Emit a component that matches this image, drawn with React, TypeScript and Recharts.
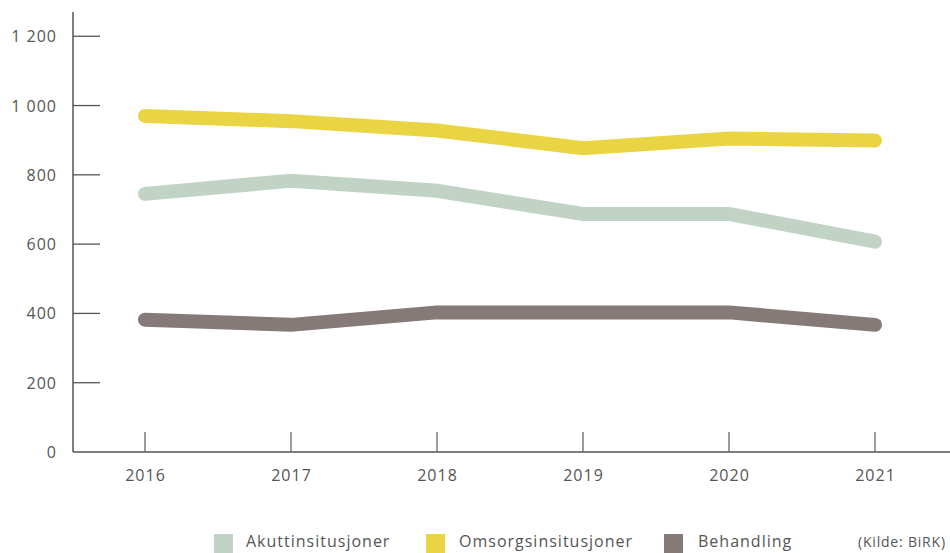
import { LineChart, Line, XAxis, YAxis } from "recharts";

const years = ["2016", "2017", "2018", "2019", "2020", "2021"];
const akutt = [745, 783, 754, 687, 687, 607];
const omsorg = [970, 955, 928, 877, 905, 899];
const behandling = [382, 367, 403, 403, 403, 367];
const yTicks = [0, 200, 400, 600, 800, 1000, 1200];

const series = [
  { key: "akutt", name: "Akuttinsitusjoner", color: "#c1d3c4", values: akutt },
  { key: "omsorg", name: "Omsorgsinsitusjoner", color: "#e9d443", values: omsorg },
  { key: "behandling", name: "Behandling", color: "#857a78", values: behandling },
];
const source = "(Kilde: BiRK)";

const data = years.map((year, i) => {
  const row: Record<string, any> = { year };
  series.forEach((s) => (row[s.key] = s.values[i]));
  return row;
});

const font = "'Open Sans', sans-serif";
const textColor = "#555";

const fmt = (v: number) => v.toLocaleString("en-US").replace(/,/g, " ");

const YTick = ({ x, y, payload }: any) => (
  <g>
    {payload.value > 0 && (
      <line x1={x} x2={x + 27} y1={y} y2={y} stroke="#555" strokeWidth={1.3} />
    )}
    <text
      x={x - 16}
      y={y}
      textAnchor="end"
      dominantBaseline="central"
      fill={textColor}
      fontSize={16}
      letterSpacing={1}
      fontFamily={font}
    >
      {fmt(payload.value)}
    </text>
  </g>
);

const XTick = ({ x, y, payload }: any) => (
  <g>
    <line x1={x} x2={x} y1={y - 20} y2={y} stroke="#666" strokeWidth={1.3} />
    <text
      x={x + 0.5}
      y={y + 23}
      textAnchor="middle"
      dominantBaseline="central"
      fill={textColor}
      fontSize={16}
      letterSpacing={1}
      fontFamily={font}
    >
      {payload.value}
    </text>
  </g>
);

const legendPos = [
  { sq: 214, tx: 246 },
  { sq: 426, tx: 459 },
  { sq: 664, tx: 698 },
];

const App = () => {
  return (
    <div style={{ position: "absolute", left: 0, top: 0, width: 950, height: 553, overflow: "hidden" }}>
      <LineChart
        width={950}
        height={553}
        data={data}
        margin={{ top: 12, right: 0, bottom: 61, left: 0 }}
      >
        <XAxis
          dataKey="year"
          height={40}
          padding={{ left: 72, right: 75 }}
          tickLine={false}
          tickSize={0}
          tickMargin={0}
          tick={<XTick />}
          axisLine={{ stroke: "#555", strokeWidth: 1.5 }}
          interval={0}
        />
        <YAxis
          width={73}
          domain={[0, 1270]}
          ticks={yTicks}
          tickLine={false}
          tickSize={0}
          tickMargin={0}
          tick={<YTick />}
          axisLine={{ stroke: "#555", strokeWidth: 1.5 }}
          interval={0}
        />
        {series.map((s) => (
          <Line
            key={s.key}
            dataKey={s.key}
            name={s.name}
            stroke={s.color}
            strokeWidth={14}
            strokeLinecap="round"
            strokeLinejoin="miter"
            dot={false}
            activeDot={false}
            isAnimationActive={false}
          />
        ))}
      </LineChart>
      {series.map((s, i) => (
        <div key={s.key}>
          <div
            style={{
              position: "absolute",
              left: legendPos[i].sq,
              top: 534,
              width: 19,
              height: 19,
              background: s.color,
            }}
          />
          <div
            style={{
              position: "absolute",
              left: legendPos[i].tx,
              top: 530,
              fontFamily: font,
              fontSize: 16,
              letterSpacing: 1,
              color: textColor,
              whiteSpace: "nowrap",
              lineHeight: "22px",
            }}
          >
            {s.name}
          </div>
        </div>
      ))}
      <div
        style={{
          position: "absolute",
          left: 858,
          top: 532,
          fontFamily: font,
          fontSize: 14,
          letterSpacing: 0.8,
          color: textColor,
          whiteSpace: "nowrap",
          lineHeight: "20px",
        }}
      >
        {source}
      </div>
    </div>
  );
};

export default App;
